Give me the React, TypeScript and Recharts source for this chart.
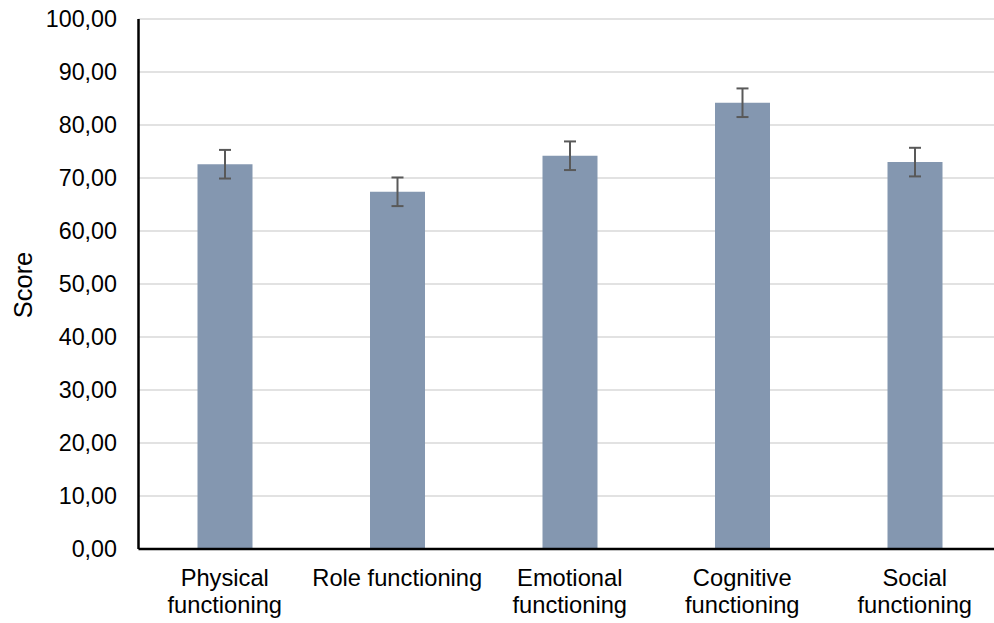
import { BarChart, Bar, XAxis, YAxis, CartesianGrid, ErrorBar, Label } from "recharts";

const categories = [
  "Physical\nfunctioning",
  "Role functioning",
  "Emotional\nfunctioning",
  "Cognitive\nfunctioning",
  "Social\nfunctioning",
];
const scores = [72.6, 67.4, 74.2, 84.2, 73.0];
const errors = [2.7, 2.7, 2.7, 2.7, 2.7];
const yTicks = [0, 10, 20, 30, 40, 50, 60, 70, 80, 90, 100];

const data = categories.map((name, i) => ({
  name,
  score: scores[i],
  err: errors[i],
}));

const FONT = "'Liberation Sans', Arial, sans-serif";

const CategoryTick = ({ x, y, payload }: any) => {
  const lines = String(payload.value).split("\n");
  return (
    <text x={x} y={y} textAnchor="middle" fill="#000" fontFamily={FONT} fontSize={23.7}>
      {lines.map((line, i) => (
        <tspan key={i} x={x} dy={i === 0 ? 37 : 26.5}>
          {line}
        </tspan>
      ))}
    </text>
  );
};

const ScoreLabel = () => (
  <text
    x={32}
    y={285}
    transform="rotate(-90 32 285)"
    textAnchor="middle"
    fill="#000"
    fontFamily={FONT}
    fontSize={25.5}
  >
    Score
  </text>
);

export default function App() {
  return (
    <div
      style={{
        position: "absolute",
        left: 0,
        top: 0,
        width: 994,
        height: 623,
        overflow: "hidden",
        background: "#fff",
      }}
    >
      <BarChart
        width={1010}
        height={623}
        data={data}
        margin={{ top: 19, right: 9, left: 0, bottom: 0 }}
      >
        <CartesianGrid vertical={false} stroke="#D9D9D9" strokeWidth={1.5} />
        <XAxis
          dataKey="name"
          height={74}
          axisLine={{ stroke: "#000", strokeWidth: 2.5 }}
          tickLine={false}
          tickSize={0}
          tickMargin={0}
          interval={0}
          tick={<CategoryTick />}
        />
        <YAxis
          width={138.5}
          domain={[0, 100]}
          ticks={yTicks}
          interval={0}
          axisLine={{ stroke: "#000", strokeWidth: 2.5 }}
          tickLine={false}
          tickSize={0}
          tickMargin={21.5}
          tick={{ fill: "#000", fontFamily: FONT, fontSize: 23.3 }}
          tickFormatter={(v: number) => v.toFixed(2).replace(".", ",")}
        >
          <Label content={<ScoreLabel />} />
        </YAxis>
        <Bar dataKey="score" fill="#8497B0" barSize={55} isAnimationActive={false}>
          <ErrorBar dataKey="err" width={6} stroke="#595959" strokeWidth={2} />
        </Bar>
      </BarChart>
    </div>
  );
}
